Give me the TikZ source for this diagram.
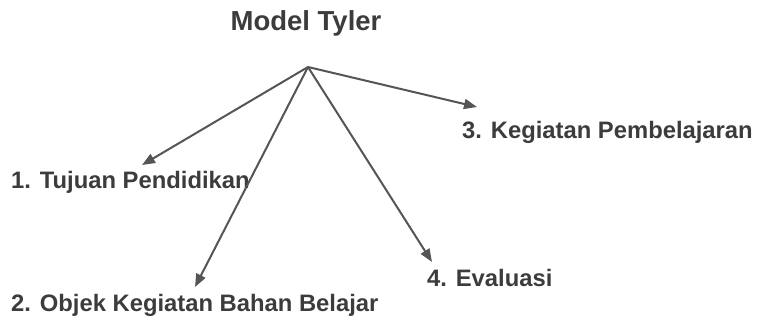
\documentclass[tikz,border=0pt]{standalone}
\usepackage{fontspec}
\setmainfont{Liberation Sans}
\usetikzlibrary{arrows.meta}
\definecolor{ink}{HTML}{3C3C3C}
\definecolor{arr}{HTML}{555555}
\tikzset{
  >={Triangle[length=13pt,width=10pt]},
  ttl/.style={font=\bfseries\fontsize{27.5}{30}\selectfont,text=ink,inner sep=0pt},
  lbl/.style={font=\bfseries\fontsize{23.8}{26}\selectfont,text=ink,inner sep=0pt,anchor=west},
  ar/.style={->,draw=arr,line width=2pt},
}
\begin{document}
\begin{tikzpicture}[x=1pt,y=-1pt]
\useasboundingbox (0,0) rectangle (757,321);
\node[ttl] (title) at (306,23){Model Tyler};
\coordinate (top) at (308,67);
\node[lbl] (l1) at (11,182){1. Tujuan Pendidikan};
\node[lbl] (l2) at (11,305){2. Objek Kegiatan Bahan Belajar};
\node[lbl] (l3) at (462,132){3. Kegiatan Pembelajaran};
\node[lbl] (l4) at (427,278){4. Evaluasi};
\coordinate (t1) at (142,165); \coordinate (t2) at (195,287);
\coordinate (t3) at (477,107); \coordinate (t4) at (432,262);
\draw[ar] (top)--(t1); \draw[ar] (top)--(t2); \draw[ar] (top)--(t3); \draw[ar] (top)--(t4);
\end{tikzpicture}
\end{document}
